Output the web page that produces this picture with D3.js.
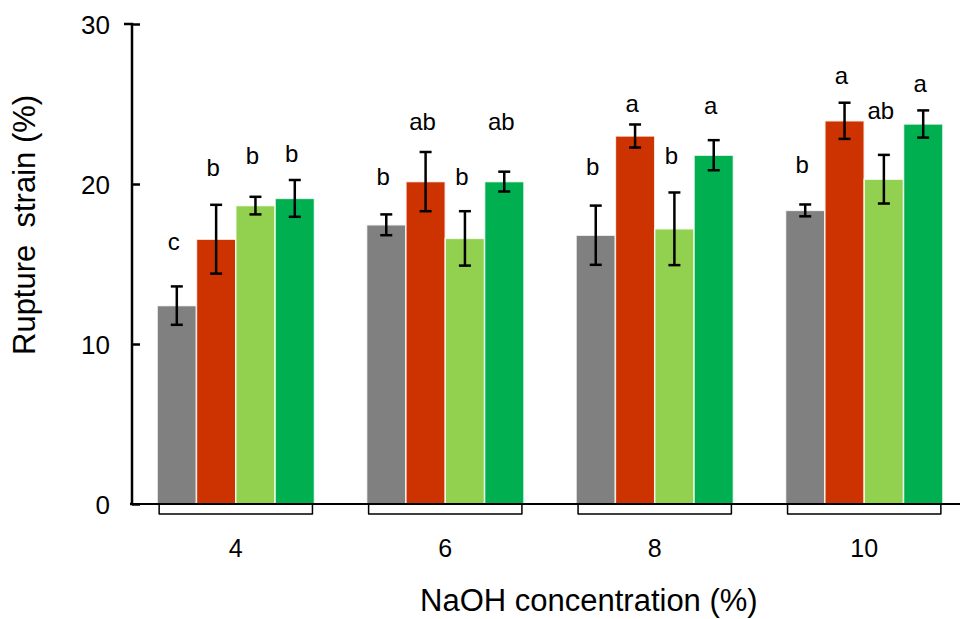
<!DOCTYPE html>
<html>
<head>
<meta charset="utf-8">
<script src="https://cdn.jsdelivr.net/npm/d3@7"></script>
<style>
    body { margin: 0; background: #fff; }
    text { font-family: Arial, "Liberation Sans", sans-serif; fill: #000; }
</style>
</head>
<body>
<script>
// Rupture strain (%) for four treatments at each NaOH concentration
const concentrations = ['4', '6', '8', '10'];
const treatments = ['T1', 'T2', 'T3', 'T4'];
const colours = ['#808080', '#CC3300', '#92D050', '#00B050'];

const meanT1 = [12.4, 17.45, 16.8, 18.35];
const meanT2 = [16.55, 20.15, 23.0, 23.95];
const meanT3 = [18.65, 16.6, 17.2, 20.3];
const meanT4 = [19.1, 20.15, 21.8, 23.75];

const errT1 = [1.2, 0.65, 1.85, 0.37];
const errT2 = [2.15, 1.85, 0.72, 1.13];
const errT3 = [0.55, 1.7, 2.27, 1.52];
const errT4 = [1.15, 0.62, 0.94, 0.85];

// significance letters and the height (in %) where each one sits
const letterT1 = ['c', 'b', 'b', 'b'];
const letterT2 = ['b', 'ab', 'a', 'a'];
const letterT3 = ['b', 'b', 'b', 'ab'];
const letterT4 = ['b', 'ab', 'a', 'a'];
const letterAtT1 = [16.4, 20.45, 21.1, 21.2];
const letterAtT2 = [21.0, 23.9, 25.0, 26.8];
const letterAtT3 = [21.8, 20.45, 21.75, 24.6];
const letterAtT4 = [21.9, 23.9, 24.9, 26.3];

const yTicks = [0, 10, 20, 30];

const means = [meanT1, meanT2, meanT3, meanT4];
const errs = [errT1, errT2, errT3, errT4];
const letters = [letterT1, letterT2, letterT3, letterT4];
const letterAt = [letterAtT1, letterAtT2, letterAtT3, letterAtT4];

let rows = [];
concentrations.forEach(function (c, ci) {
    treatments.forEach(function (t, ti) {
        rows.push({
            conc: c, treat: t, ti: ti,
            mean: means[ti][ci], err: errs[ti][ci],
            letter: letters[ti][ci], letterAt: letterAt[ti][ci]
        });
    });
});

const width = 960, height = 619;
const margin = { left: 132, top: 24, bottom: 115 };

var svg = d3.select("body").append("svg")
    .attr("width", width)
    .attr("height", height);

var x0 = d3.scaleBand()
    .domain(concentrations)
    .range([margin.left, 968])
    .paddingInner(0.249)
    .paddingOuter(0.12);

var x1 = d3.scaleBand()
    .domain(treatments)
    .range([0, x0.bandwidth()]);

var y = d3.scaleLinear()
    .domain([0, 30])
    .range([height - margin.bottom, margin.top]);

// bars
svg.selectAll(".bar")
    .data(rows)
    .enter()
    .append("rect")
    .attr("class", "bar")
    .attr("x", d => x0(d.conc) + x1(d.treat))
    .attr("y", d => y(d.mean))
    .attr("width", x1.bandwidth())
    .attr("height", d => y(0) - y(d.mean))
    .attr("fill", d => colours[d.ti])
    .attr("stroke", "#fff")
    .attr("stroke-opacity", 0.8)
    .attr("stroke-width", 1.5);

// error bars
var cap = 6;
var eb = svg.selectAll(".err")
    .data(rows)
    .enter()
    .append("g")
    .attr("class", "err")
    .attr("stroke", "#000")
    .attr("stroke-width", 2.5)
    .attr("transform", d => "translate(" + (x0(d.conc) + x1(d.treat) + x1.bandwidth() / 2) + ",0)");
eb.append("line")
    .attr("y1", d => y(d.mean - d.err))
    .attr("y2", d => y(d.mean + d.err));
eb.append("line")
    .attr("x1", -cap).attr("x2", cap)
    .attr("y1", d => y(d.mean + d.err))
    .attr("y2", d => y(d.mean + d.err));
eb.append("line")
    .attr("x1", -cap).attr("x2", cap)
    .attr("y1", d => y(d.mean - d.err))
    .attr("y2", d => y(d.mean - d.err));

// letters
svg.selectAll(".letter")
    .data(rows)
    .enter()
    .append("text")
    .attr("class", "letter")
    .attr("x", d => x0(d.conc) + x1(d.treat) + x1.bandwidth() / 2 - 3)
    .attr("y", d => y(d.letterAt))
    .attr("dy", "0.35em")
    .style("text-anchor", "middle")
    .style("font-size", "24px")
    .text(d => d.letter);

// x baseline and group brackets
svg.append("line")
    .attr("x1", margin.left - 2).attr("x2", width)
    .attr("y1", y(0)).attr("y2", y(0))
    .attr("stroke", "#000")
    .attr("stroke-width", 2);

svg.selectAll(".bracket")
    .data(concentrations)
    .enter()
    .append("path")
    .attr("class", "bracket")
    .attr("fill", "none")
    .attr("stroke", "#000")
    .attr("stroke-width", 1.5)
    .attr("stroke-linejoin", "round")
    .attr("d", function (c) {
        var a = x0(c) + 2, b = x0(c) + x0.bandwidth() - 2, t = y(0), btm = y(0) + 10;
        return "M" + a + "," + t + "V" + btm + "H" + b + "V" + t;
    });

svg.selectAll(".conc")
    .data(concentrations)
    .enter()
    .append("text")
    .attr("class", "conc")
    .attr("x", c => x0(c) + x0.bandwidth() / 2)
    .attr("y", y(0) + 53)
    .style("text-anchor", "middle")
    .style("font-size", "25px")
    .text(c => c);

// y axis
var yAxis = d3.axisLeft(y)
    .tickValues(yTicks)
    .tickSize(-8)
    .tickPadding(22);
var gy = svg.append("g")
    .attr("transform", "translate(" + margin.left + ",0)")
    .call(yAxis);
gy.select(".domain").attr("stroke-width", 2.5).attr("d", "M-8," + y(30) + "H0V" + y(0) + "H-2");
gy.selectAll(".tick line").attr("stroke-width", 2.5);
gy.selectAll(".tick text")
    .style("font-size", "26px")
    .style("font-family", "Arial, 'Liberation Sans', sans-serif")
    .attr("dy", "0.35em");

// axis titles
svg.append("text")
    .attr("transform", "translate(35,355) rotate(-90)")
    .style("text-anchor", "start")
    .style("font-size", "31px")
    .text("Rupture\u00a0 strain (%)");

svg.append("text")
    .attr("x", 420)
    .attr("y", 611)
    .style("text-anchor", "start")
    .style("font-size", "31px")
    .text("NaOH concentration (%)");
</script>
</body>
</html>
